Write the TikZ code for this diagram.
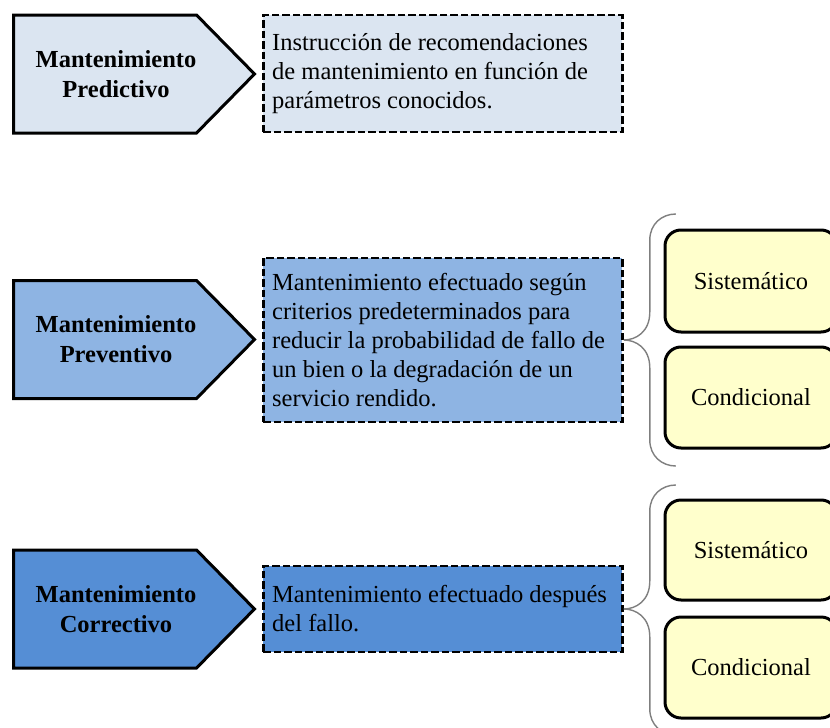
\documentclass[tikz,border=0pt]{standalone}
\usepackage{fontspec}
\setmainfont{Liberation Serif}
\usetikzlibrary{shapes.symbols}

\definecolor{predfill}{HTML}{DBE5F1}
\definecolor{prevfill}{HTML}{8EB4E3}
\definecolor{corrfill}{HTML}{558ED5}
\definecolor{optfill}{HTML}{FFFFCC}
\definecolor{bracegray}{HTML}{7F7F7F}

\tikzset{
  arrowbox/.style={shape=signal, signal to=east, signal pointer angle=91,
    draw=black, line width=3pt, inner sep=0pt,
    minimum width=241pt, minimum height=118pt, anchor=west},
  titletext/.style={font=\bfseries\fontsize{24.5}{30}\selectfont, align=center, inner sep=0pt},
  descbox/.style={draw=black, line width=2.8pt, dash pattern=on 7.5pt off 3pt,
    minimum width=359pt, inner sep=0pt, anchor=west},
  desctext/.style={align=left, anchor=west, inner sep=0pt,
    font=\fontsize{24.5}{29}\selectfont},
  optbox/.style={draw=black, line width=3pt, rounded corners=16pt, fill=optfill,
    minimum width=172pt, inner sep=0pt, font=\fontsize{24.5}{29}\selectfont},
  bracepath/.style={draw=bracegray, line width=1.4pt}
}

\begin{document}
\begin{tikzpicture}[x=1pt, y=-1pt]
\useasboundingbox (0,0) rectangle (830,728);

% --- Predictive row ---
\node[arrowbox, fill=predfill] (predS) at (12,74) {};
\node[titletext] (predT) at (116,74) {Mantenimiento\\Predictivo};
\node[descbox, fill=predfill, minimum height=117pt] (predD) at (262,73.5) {};
\node[desctext] (predX) at ([xshift=10pt]predD.west)
  {Instrucción de recomendaciones\\de mantenimiento en función de\\parámetros conocidos.};

% --- Preventive row ---
\node[arrowbox, fill=prevfill] (prevS) at (12,339.5) {};
\node[titletext] (prevT) at (116,339.5) {Mantenimiento\\Preventivo};
\node[descbox, fill=prevfill, minimum height=164pt] (prevD) at (262,340) {};
\node[desctext] (prevX) at ([xshift=10pt]prevD.west)
  {Mantenimiento efectuado según\\criterios predeterminados para\\reducir la probabilidad de fallo de\\un bien o la degradación de un\\servicio rendido.};

\node[optbox, minimum height=102pt] (prevSis) at (751,281) {Sistemático};
\node[optbox, minimum height=101pt] (prevCon) at (751,397.5) {Condicional};

\draw[bracepath] (prevD.east)
  .. controls +(12,0) and +(0,20) .. ++(26,-28) -- ++(0,-72)
  .. controls +(0,-16) and +(-14,0) .. ++(26,-26);
\draw[bracepath] (prevD.east)
  .. controls +(12,0) and +(0,-20) .. ++(26,28) -- ++(0,72)
  .. controls +(0,16) and +(-14,0) .. ++(26,26);

% --- Corrective row ---
\node[arrowbox, fill=corrfill] (corrS) at (12,609) {};
\node[titletext] (corrT) at (116,609) {Mantenimiento\\Correctivo};
\node[descbox, fill=corrfill, minimum height=86pt] (corrD) at (262,609) {};
\node[desctext] (corrX) at ([xshift=10pt]corrD.west)
  {Mantenimiento efectuado después\\del fallo.};

\node[optbox, minimum height=100pt] (corrSis) at (751,550) {Sistemático};
\node[optbox, minimum height=101pt] (corrCon) at (751,667.5) {Condicional};

\draw[bracepath] (corrD.east)
  .. controls +(12,0) and +(0,20) .. ++(26,-28) -- ++(0,-70)
  .. controls +(0,-16) and +(-14,0) .. ++(26,-26);
\draw[bracepath] (corrD.east)
  .. controls +(12,0) and +(0,-20) .. ++(26,28) -- ++(0,72)
  .. controls +(0,16) and +(-14,0) .. ++(26,26);
\end{tikzpicture}
\end{document}
